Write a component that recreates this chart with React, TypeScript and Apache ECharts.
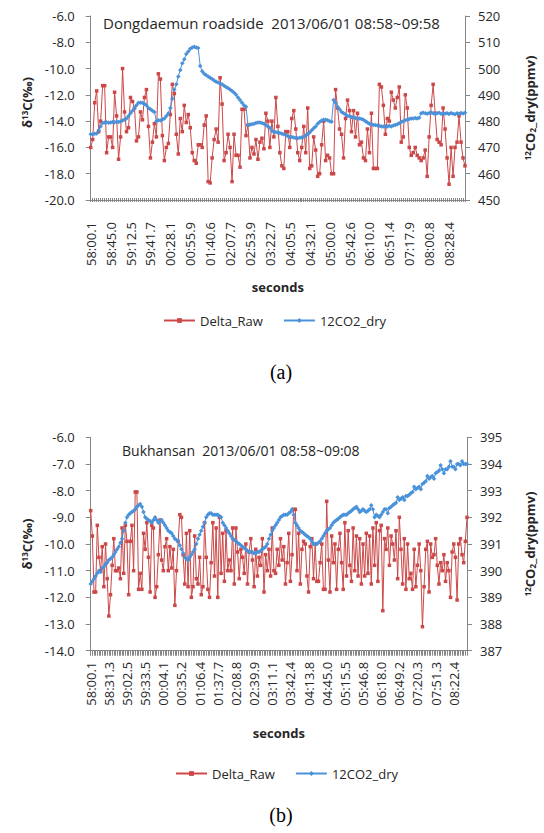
import React, { useEffect, useRef } from 'react';
import * as echarts from 'echarts';

// ---------- tick labels ----------
const labelsA = [
  '58:00.1', '58:45.0', '59:12.5', '59:41.7', '00:28.1', '00:55.9', '01:40.6', '02:07.7', '02:53.9', '03:22.7',
  '04:05.5', '04:32.1', '05:00.0', '05:42.6', '06:10.0', '06:51.4', '07:17.9', '08:00.8', '08:28.4',
];
const labelsB = [
  '58:00.1', '58:31.3', '59:02.5', '59:33.5', '00:04.1', '00:35.2', '01:06.4', '01:37.7', '02:08.8', '02:39.9',
  '03:11.1', '03:42.4', '04:13.8', '04:45.0', '05:15.5', '05:46.8', '06:18.0', '06:49.2', '07:20.3', '07:51.3',
  '08:22.4',
];
const labelStepA = 10;
const labelStepB = 11;

// ---------- (a) Dongdaemun roadside ----------
const deltaRawA = [
  -16.0, -15.4, -12.6, -11.7, -14.8, -14.0, -11.3, -11.3, -16.4, -15.2,
  -15.2, -16.0, -11.8, -13.6, -16.9, -15.2, -10.0, -13.3, -14.8, -14.5,
  -12.2, -12.5, -13.0, -15.5, -15.2, -13.3, -13.9, -12.2, -11.6, -14.4,
  -16.8, -15.6, -14.2, -15.2, -10.4, -10.8, -15.1, -17.0, -16.0, -15.7,
  -13.5, -11.2, -11.9, -15.0, -16.5, -13.8, -14.8, -12.8, -14.1, -13.5,
  -14.5, -16.4, -17.0, -17.2, -15.8, -15.8, -16.0, -14.3, -13.6, -18.6,
  -18.7, -16.8, -15.4, -14.6, -15.6, -10.7, -12.7, -17.0, -16.4, -15.0,
  -16.0, -18.6, -15.0, -16.6, -16.6, -17.5, -13.1, -13.1, -15.1, -14.3,
  -16.8, -16.0, -16.5, -15.4, -16.9, -15.6, -15.3, -16.1, -13.4, -14.0,
  -16.0, -14.0, -15.2, -12.2, -14.4, -16.4, -17.4, -17.6, -14.8, -14.8,
  -16.0, -13.8, -13.2, -14.6, -16.4, -17.0, -16.0, -14.4, -16.4, -13.0,
  -17.6, -17.4, -15.2, -16.2, -18.2, -18.0, -15.8, -14.0, -17.0, -16.6,
  -16.8, -18.0, -18.0, -11.6, -13.0, -14.6, -15.0, -16.8, -13.8, -12.4,
  -13.2, -14.8, -13.2, -15.2, -13.4, -15.8, -15.6, -16.8, -17.0, -14.6,
  -16.4, -13.4, -17.6, -17.6, -17.6, -11.2, -11.4, -12.8, -15.0, -13.8,
  -14.0, -11.8, -12.4, -13.0, -12.2, -11.4, -15.6, -15.2, -12.0, -13.0,
  -16.0, -16.6, -16.4, -16.0, -16.6, -16.8, -17.0, -16.8, -16.2, -18.2,
  -15.2, -12.8, -11.2, -13.4, -15.4, -15.6, -15.8, -13.0, -14.6, -16.8,
  -18.8, -16.0, -18.2, -16.0, -15.6, -13.6, -15.6, -16.8, -17.4,
];
const co2DryA = [
  475.0, 475.0, 475.2, 475.3, 476.5, 478.0, 479.3, 479.5, 479.6, 479.4,
  479.5, 479.7, 479.6, 479.8, 479.7, 479.9, 480.2, 480.6, 481.0, 482.0,
  483.0, 484.0, 485.0, 486.0, 487.0, 487.0, 487.0, 486.5, 486.0, 485.0,
  484.5, 484.0, 483.5, 480.0, 480.3, 480.2, 480.6, 481.0, 482.0, 483.0,
  485.0, 488.5, 492.0, 494.0, 497.0, 499.5, 502.0, 503.5, 505.5, 506.5,
  507.5, 508.0, 508.3, 508.0, 507.8, 501.0, 499.0, 498.0, 497.5, 497.0,
  496.5, 496.0, 495.5, 495.0, 494.7, 494.3, 494.0, 493.5, 493.0, 492.5,
  492.0, 491.5, 490.8, 490.0, 489.0, 488.0, 487.0, 486.0, 485.5, 478.5,
  478.7, 478.8, 479.0, 479.3, 479.5, 479.5, 479.3, 479.0, 478.5, 478.0,
  477.5, 476.3, 476.0, 475.8, 475.7, 475.5, 475.2, 475.0, 474.7, 474.3,
  474.0, 474.0, 473.8, 473.6, 473.5, 473.7, 473.8, 474.0, 474.5, 475.0,
  475.7, 476.5, 477.3, 478.0, 479.0, 479.7, 480.2, 480.5, 480.5, 480.3,
  480.0, 479.8, 488.0, 487.0, 485.5, 484.5, 483.5, 483.0, 482.5, 482.0,
  482.0, 481.5, 481.5, 481.2, 481.0, 481.0, 480.8, 480.5, 480.0, 479.5,
  479.0, 478.8, 478.5, 478.5, 478.3, 478.2, 478.0, 478.0, 478.0, 478.0,
  478.2, 478.0, 478.3, 478.5, 478.8, 479.2, 479.7, 480.0, 480.3, 480.5,
  480.8, 481.0, 481.0, 481.2, 481.0, 481.3, 483.0, 483.2, 483.0, 482.8,
  483.1, 483.3, 483.0, 482.7, 483.0, 483.2, 482.8, 482.6, 482.9, 483.0,
  482.7, 483.1, 482.8, 482.6, 483.0, 482.8, 483.1, 482.9, 483.2,
];

// ---------- (b) Bukhansan ----------
const deltaRawB = [
  -8.75, -9.7, -11.8, -11.8, -9.3, -10.5, -11.0, -10.1, -11.6, -10.0,
  -11.3, -12.7, -11.9, -10.8, -9.8, -11.0, -11.0, -10.9, -11.3, -9.4,
  -11.1, -9.3, -9.9, -11.9, -9.9, -9.3, -11.0, -8.05, -8.05, -11.7,
  -11.1, -11.7, -9.6, -10.2, -9.2, -10.5, -11.8, -9.3, -9.4, -12.0,
  -11.6, -10.4, -9.1, -10.6, -11.0, -10.1, -9.8, -11.0, -10.1, -10.9,
  -10.2, -12.3, -11.0, -9.9, -8.9, -9.0, -10.4, -11.5, -9.6, -11.6,
  -9.5, -12.0, -11.6, -9.7, -11.3, -11.5, -10.5, -11.9, -11.6, -9.2,
  -10.5, -11.7, -12.0, -10.7, -9.2, -11.2, -9.4, -12.0, -9.0, -11.1,
  -9.6, -11.4, -9.5, -11.0, -10.6, -11.0, -9.4, -11.5, -9.4, -10.3,
  -11.3, -10.2, -10.5, -11.1, -10.0, -11.5, -10.3, -9.8, -10.6, -11.6,
  -10.2, -11.2, -10.5, -10.8, -9.8, -11.8, -10.4, -11.0,
  -10.2, -11.2, -9.4, -11.0, -11.1, -10.2, -10.8, -9.8, -10.6, -10.1,
  -11.5, -10.7, -9.6, -11.4, -10.4, -8.7, -8.7, -11.0, -9.6, -11.5,
  -10.2, -9.9, -10.0, -11.2, -11.8, -10.1, -9.8, -11.3, -10.0, -11.4,
  -11.4, -10.7, -10.0, -11.7, -11.7, -8.4, -10.6, -11.8, -9.7, -10.7,
  -10.0, -11.7, -10.2, -9.6, -10.7, -11.7, -9.2, -11.2, -9.5, -10.8,
  -11.4, -9.4, -11.0, -9.7, -11.2, -9.8, -11.5, -10.0, -11.2, -9.6,
  -11.1, -9.7, -11.5, -9.4, -10.8, -9.2, -11.4, -9.5, -9.3, -12.5,
  -9.8, -10.2, -9.4, -10.8, -9.7, -10.0, -10.6, -9.5, -11.3, -9.0,
  -10.2, -11.5, -9.8, -11.7, -10.0, -11.3, -11.1, -11.7, -10.2, -11.6,
  -10.8, -10.0, -11.0, -13.1, -11.6, -10.2, -9.9, -11.8, -10.0, -10.5,
  -10.4, -9.8, -10.8, -11.5, -10.7, -11.0, -10.4, -11.4, -10.7, -11.0,
  -12.0, -10.3, -10.0, -10.5, -12.1, -10.0, -9.8, -10.4, -10.7, -9.9,
  -9.0,
];
const co2DryB = [
  389.5, 389.6, 389.7, 389.8, 389.9, 390.0, 389.95, 390.1, 390.15, 390.25,
  390.3, 390.4, 390.45, 390.5, 390.6, 390.7, 390.8, 390.9, 391.05, 391.2,
  391.5, 391.8, 392.0, 392.1, 392.15, 392.2, 392.25, 392.3, 392.4, 392.45,
  392.5, 392.4, 392.2, 392.0, 391.95, 391.9, 391.85, 391.8, 391.9, 392.0,
  391.9, 391.8, 391.85, 391.9, 391.8, 391.7, 391.6, 391.5, 391.45, 391.4,
  391.3, 391.2, 391.15, 391.1, 390.95, 390.8, 390.65, 390.5, 390.45, 390.4,
  390.5, 390.6, 390.7, 390.8, 391.0, 391.2, 391.35, 391.5, 391.65, 391.8,
  392.0, 392.1, 392.15, 392.15, 392.1, 392.1, 392.1, 392.1, 392.05, 392.0,
  391.8, 391.7, 391.6, 391.5, 391.4, 391.3, 391.2, 391.15, 391.1, 391.05,
  391.0, 390.95, 390.9, 390.85, 390.8, 390.75, 390.7, 390.7, 390.7, 390.65,
  390.65, 390.7, 390.7, 390.75, 390.8, 390.85, 390.9, 391.0, 391.2, 391.35,
  391.5, 391.6, 391.7, 391.8, 391.9, 392.0, 392.05, 392.1, 392.1, 392.1,
  392.15, 392.2, 392.3, 392.1, 391.8, 391.7, 391.6, 391.5, 391.45, 391.4,
  391.35, 391.3, 391.25, 391.2, 391.1, 391.0, 391.0, 391.0, 391.05, 391.1,
  391.2, 391.3, 391.4, 391.5, 391.55, 391.6, 391.7, 391.8, 391.85, 391.9,
  391.95, 392.0, 392.05, 392.1, 392.1, 392.1, 392.15, 392.2, 392.25, 392.3,
  392.35, 392.4, 392.3, 392.2, 392.25, 392.3, 392.25, 392.2, 392.25, 392.3,
  392.45, 392.3, 392.0, 392.1, 392.05, 392.0, 392.1, 392.2, 392.3, 392.3,
  392.15, 392.35, 392.4, 392.45, 392.5, 392.55, 392.75, 392.65, 392.7, 392.75,
  392.65, 392.8, 392.8, 392.85, 392.9, 392.95, 393.15, 393.05, 393.1, 393.15,
  393.05, 393.25, 393.3, 393.35, 393.55, 393.45, 393.5, 393.55, 393.45, 393.65,
  393.7, 393.75, 393.95, 393.8, 393.65, 393.8, 393.8, 393.9, 394.1, 393.9,
  393.9, 393.8, 394.0, 394.0, 393.95, 394.1, 394.0, 394.0, 394.0,
];

const catsA = deltaRawA.map((_, i) => (i % labelStepA === 0 ? labelsA[i / labelStepA] ?? '' : ''));
const catsB = deltaRawB.map((_, i) => (i % labelStepB === 0 ? labelsB[i / labelStepB] ?? '' : ''));

const FONT = 'Open Sans';
const TXT = '#262626';
const AXIS = '#868686';
const RED = '#CC4848';
const BLUE = '#4A92DA';

const richName = {
  b: { fontFamily: FONT, fontWeight: 'bold' as const, fontSize: 13, color: TXT },
  sup: { fontFamily: FONT, fontWeight: 'bold' as const, fontSize: 8, color: TXT, verticalAlign: 'top' as const },
  sub: { fontFamily: FONT, fontWeight: 'bold' as const, fontSize: 8, color: TXT, verticalAlign: 'bottom' as const },
};

const tickLabel = { color: TXT, fontSize: 13, fontFamily: FONT };

function yAxis(gridIndex: number, position: 'left' | 'right', min: number, max: number, interval: number,
  fmt: (v: number) => string, name: string, nameGap: number, namePad: number[] = [0, 0, 0, 0], margin = 16) {
  return {
    type: 'value' as const,
    gridIndex,
    position,
    min,
    max,
    interval,
    axisLine: { show: true, lineStyle: { color: AXIS, width: 1 } },
    axisTick: { show: true, length: 5, lineStyle: { color: AXIS } },
    splitLine: { show: false },
    axisLabel: { ...tickLabel, margin, formatter: fmt },
    name,
    nameLocation: 'middle' as const,
    nameGap,
    nameRotate: 90,
    nameTextStyle: { fontFamily: FONT, fontWeight: 'bold' as const, fontSize: 13, color: TXT, padding: namePad, rich: richName },
  };
}

function xAxes(gridIndex: number, cats: string[], tickLen: number, margin: number, nameGap: number, cross: boolean) {
  const main = {
    type: 'category' as const,
    gridIndex,
    position: 'bottom' as const,
    data: cats,
    boundaryGap: false,
    axisLine: { show: true, lineStyle: { color: AXIS, width: 1 } },
    axisTick: { show: true, interval: 0, length: tickLen, lineStyle: { color: AXIS, width: 1 } },
    axisLabel: { interval: 0, rotate: 90, margin, color: TXT, fontSize: 13, fontFamily: FONT },
    splitLine: { show: false },
    name: 'seconds',
    nameLocation: 'middle' as const,
    nameGap,
    nameTextStyle: { fontFamily: FONT, fontWeight: 'bold' as const, fontSize: 13, color: TXT },
  };
  const out: any[] = [main];
  if (cross) {
    out.push({
      type: 'category' as const,
      gridIndex,
      position: 'bottom' as const,
      data: cats,
      boundaryGap: false,
      axisLine: { show: false },
      axisTick: { show: true, inside: true, interval: 0, length: 2, lineStyle: { color: AXIS, width: 1 } },
      axisLabel: { show: false },
      splitLine: { show: false },
    });
  }
  return out;
}

const lineSeries = (name: string, data: number[], xAxisIndex: number, yAxisIndex: number, color: string,
  symbol: string, symbolSize: number) => ({
  name,
  type: 'line' as const,
  xAxisIndex,
  yAxisIndex,
  data,
  symbol,
  symbolSize,
  showAllSymbol: true,
  lineStyle: { width: 1, color },
  itemStyle: { color },
  emphasis: { disabled: true },
});

const legendStyle = {
  data: ['Delta_Raw', '12CO2_dry'],
  orient: 'horizontal' as const,
  padding: 0,
  itemWidth: 31,
  itemHeight: 6,
  itemGap: 20,
  selectedMode: false,
  textStyle: { fontFamily: FONT, fontSize: 13, color: TXT },
};

const fmt1 = (v: number) => v.toFixed(1);
const fmt0 = (v: number) => String(Math.round(v));

const option = {
  animation: false,
  backgroundColor: '#ffffff',
  title: [
    {
      text: 'Dongdaemun roadside  2013/06/01 08:58~09:58',
      left: 103, top: 15, padding: 0,
      textStyle: { fontFamily: FONT, fontSize: 15, fontWeight: 'normal', color: TXT },
    },
    {
      text: 'Bukhansan  2013/06/01 08:58~09:08',
      left: 122, top: 443, padding: 0,
      textStyle: { fontFamily: FONT, fontSize: 14, fontWeight: 'normal', color: TXT },
    },
  ],
  grid: [
    { left: 90.7, top: 16, width: 375.6, height: 184 },
    { left: 90.7, top: 437.3, width: 384.6, height: 213.4 },
  ],
  xAxis: [
    ...xAxes(0, catsA, 2, 22, 80, true),
    ...xAxes(1, catsB, 5, 11, 76, false),
  ],
  yAxis: [
    yAxis(0, 'left', -20, -6, 2, fmt1, '{b|δ}{sup|13}{b|C(‰)}', 52, [0, 0, 0, 11]),
    yAxis(0, 'right', 450, 520, 10, fmt0, '{sup|12}{b|CO}{sub|2}{b|_dry(ppmv)}', 58, [0, 0, 0, 0], 13),
    yAxis(1, 'left', -14, -6, 1, fmt1, '{b|δ}{sup|13}{b|C(‰)}', 52),
    yAxis(1, 'right', 387, 395, 1, fmt0, '{sup|12}{b|CO}{sub|2}{b|_dry(ppmv)}', 56, [0, 0, 0, 0], 13),
  ],
  legend: [
    { ...legendStyle, left: 163, top: 314 },
    { ...legendStyle, left: 175, top: 767 },
  ],
  series: [
    lineSeries('Delta_Raw', deltaRawA, 0, 0, RED, 'rect', 3.5),
    lineSeries('12CO2_dry', co2DryA, 0, 1, BLUE, 'diamond', 4.5),
    lineSeries('Delta_Raw', deltaRawB, 2, 2, RED, 'rect', 3.5),
    lineSeries('12CO2_dry', co2DryB, 2, 3, BLUE, 'diamond', 4.5),
  ],
  graphic: [
    {
      type: 'text', x: 281, y: 372,
      style: { text: '(a)', font: '20px "Liberation Serif"', fill: '#000', textAlign: 'center', textVerticalAlign: 'middle' },
    },
    {
      type: 'text', x: 281, y: 815,
      style: { text: '(b)', font: '20px "Liberation Serif"', fill: '#000', textAlign: 'center', textVerticalAlign: 'middle' },
    },
  ],
};

export default function App() {
  const ref = useRef<HTMLDivElement>(null);
  useEffect(() => {
    document.body.style.margin = '0';
    const chart = echarts.init(ref.current as HTMLDivElement, null, { renderer: 'svg', width: 544, height: 833 });
    chart.setOption(option as any);
    return () => chart.dispose();
  }, []);
  return <div ref={ref} style={{ width: 544, height: 833, background: '#fff' }} />;
}
